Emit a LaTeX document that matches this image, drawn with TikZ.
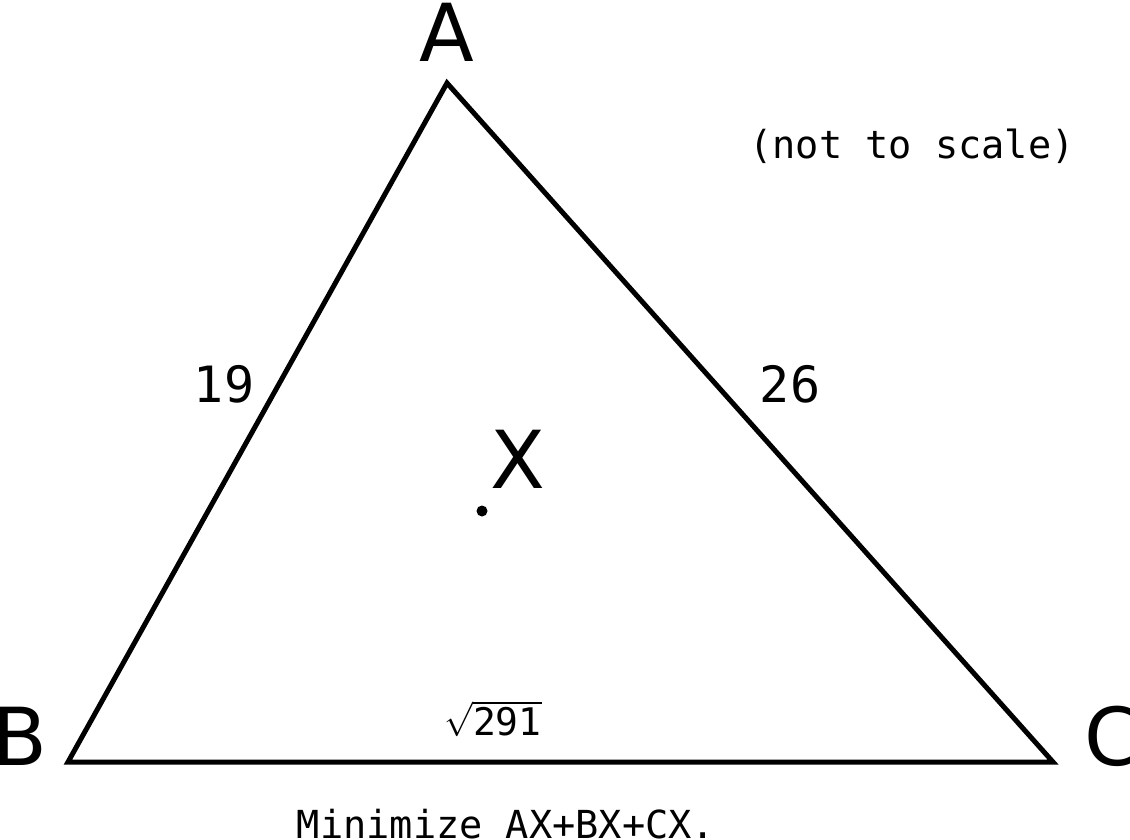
\documentclass[tikz,border=0pt]{standalone}
\usepackage{fontspec}
\usepackage{amsmath}
\setmainfont{DejaVu Sans}
\newfontfamily\monofont{DejaVu Sans Mono}
\usetikzlibrary{calc}
\begin{document}
\begin{tikzpicture}[line cap=round,line join=miter,x=0.5pt,y=-0.5pt,
  vertexlabel/.style={anchor=base,inner sep=0pt,font=\fontsize{40}{40}\selectfont},
  sidelabel/.style={anchor=base,inner sep=0pt,font=\monofont\fontsize{25}{26}\selectfont},
  notelabel/.style={anchor=base,inner sep=0pt,font=\monofont\fontsize{19.3}{20}\selectfont}]
\useasboundingbox (0,0) rectangle (1130,840);
\coordinate (a) at (447,83);
\coordinate (b) at (68,762);
\coordinate (c) at (1053,762);
\draw [line width=2.5pt] (a) -- (b) -- (c) -- cycle;
\fill (482,511) circle (5.5);
\node[vertexlabel] (lA) at (447,62) {A};
\node[vertexlabel] (lB) at (20,765) {B};
\node[vertexlabel] (lC) at (1112,765) {C};
\node[vertexlabel] (lX) at (518,488) {X};
\node[sidelabel] (ab) at (224,402) {19};
\node[sidelabel] (ac) at (790,402) {26};
\node[notelabel,font=\monofont\fontsize{19}{19}\selectfont] (bc) at (493,735) {$\sqrt{\mbox{\monofont 291}}$};
\node[notelabel] (note) at (912,158) {(not to scale)};
\node[notelabel] (task) at (506,838) {Minimize AX+BX+CX.};
\end{tikzpicture}
\end{document}
